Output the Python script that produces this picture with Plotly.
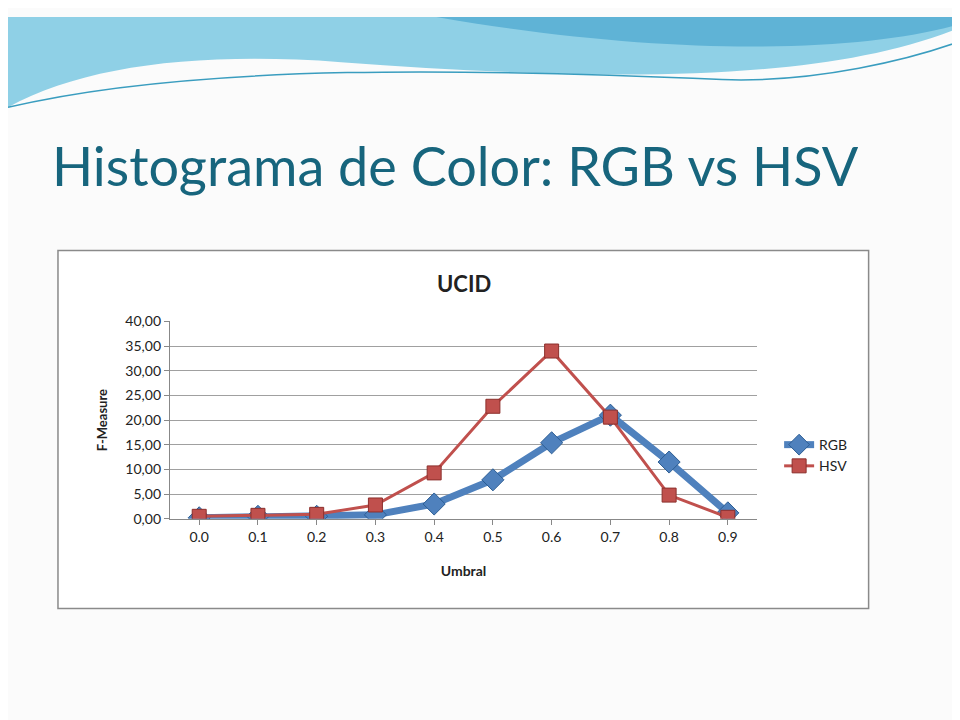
import plotly.graph_objects as go

umbral = ["0.0", "0.1", "0.2", "0.3", "0.4", "0.5", "0.6", "0.7", "0.8", "0.9"]
rgb = [0.2, 0.5, 0.5, 0.8, 3.0, 7.9, 15.4, 21.0, 11.5, 1.2]
hsv = [0.5, 0.7, 0.9, 2.8, 9.3, 22.8, 34.0, 20.6, 4.8, 0.3]
y_ticks = [0, 5, 10, 15, 20, 25, 30, 35, 40]
y_labels = [("%.2f" % v).replace(".", ",") for v in y_ticks]

fig = go.Figure()
fig.add_trace(go.Scatter(
    x=umbral, y=rgb, name="RGB", mode="lines+markers",
    line=dict(color="#4F81BD", width=7),
    marker=dict(symbol="diamond", size=17, color="#4F81BD",
                line=dict(color="#2c5d93", width=1)),
))
fig.add_trace(go.Scatter(
    x=umbral, y=hsv, name="HSV", mode="lines+markers",
    line=dict(color="#C0504D", width=3),
    marker=dict(symbol="square", size=14, color="#C0504D",
                line=dict(color="#8c2f2c", width=1)),
))

fig.update_layout(
    width=952, height=712,
    margin=dict(l=0, r=0, t=0, b=0),
    paper_bgcolor="#fbfbfb", plot_bgcolor="white",
    font=dict(family="Lato, Open Sans, sans-serif", color="#222"),
    xaxis=dict(domain=[0.170, 0.787], type="category", range=[-0.5, 9.5],
               showgrid=False, showline=True, linecolor="#888",
               ticks="outside", tickcolor="#888", tickfont=dict(size=14),
               title=dict(text="<b>Umbral</b>", font=dict(size=14), standoff=22)),
    yaxis=dict(domain=[0.278, 0.562], range=[0, 40], tickvals=y_ticks,
               ticktext=y_labels, showgrid=True, gridcolor="#a0a0a0",
               showline=True, linecolor="#888", ticks="outside", tickcolor="#888",
               tickfont=dict(size=14),
               title=dict(text="<b>F-Measure</b>", font=dict(size=13), standoff=14)),
    legend=dict(x=0.81, y=0.369, xanchor="left", yanchor="middle",
                font=dict(size=14), bgcolor="rgba(0,0,0,0)", tracegroupgap=12),
    showlegend=True,
)

# slide decoration and chart frame
fig.add_shape(type="path", xref="paper", yref="paper", layer="below",
              path="M 0,1 L 1,1 L 1,0.985 C 0.85,0.90 0.6,0.91 0.35,0.935 C 0.2,0.95 0.08,0.93 0,0.87 Z",
              fillcolor="#8fd0e6", line=dict(width=0))
fig.add_shape(type="path", xref="paper", yref="paper", layer="below",
              path="M 0.45,1 L 1,1 L 1,0.99 C 0.9,0.95 0.7,0.94 0.45,1 Z",
              fillcolor="#5fb3d6", line=dict(width=0))
fig.add_shape(type="path", xref="paper", yref="paper", layer="below",
              path="M 0,0.87 C 0.2,0.935 0.5,0.925 0.75,0.91 C 0.85,0.905 0.95,0.94 1,0.965",
              line=dict(color="#3a9dbf", width=1.5))
fig.add_shape(type="rect", xref="paper", yref="paper", layer="below",
              x0=0.0525, x1=0.904, y0=0.149, y1=0.664,
              fillcolor="white", line=dict(color="#8a8a8a", width=1.5))

fig.add_annotation(text="Histograma de Color: RGB vs HSV", xref="paper", yref="paper",
                   x=0.044, y=0.787, xanchor="left", yanchor="middle", showarrow=False,
                   font=dict(size=54, color="#17657d", family="Lato, Open Sans, sans-serif"))
fig.add_annotation(text="<b>UCID</b>", xref="paper", yref="paper",
                   x=0.479, y=0.617, showarrow=False, font=dict(size=22))

fig.write_html("out.html")
